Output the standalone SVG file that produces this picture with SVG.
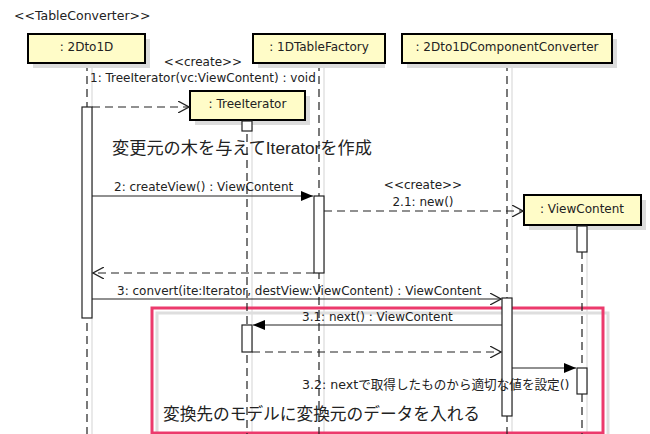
<svg xmlns="http://www.w3.org/2000/svg" width="650" height="434" viewBox="0 0 650 434">
  <style>
    text { font-family: "DejaVu Sans", "Noto Sans CJK JP", sans-serif; fill: #222; }
    .lbl { font-size: 12px; }
    .note { font-family: "Liberation Sans", "Noto Sans CJK JP", sans-serif; font-size: 17px; }
    .head { fill: #fffcc8; stroke: #000; stroke-width: 2; }
    .shadow { fill: #dcdcdc; stroke: none; }
    .sline { stroke: #e2e2e2; stroke-width: 1.5; fill: none; }
    .life { stroke: #222; stroke-width: 1.2; stroke-dasharray: 8 5; fill: none; }
    .act { fill: #fff; stroke: #222; stroke-width: 1.2; }
    .msg { stroke: #222; stroke-width: 1.2; fill: none; }
    .ret { stroke: #222; stroke-width: 1.2; fill: none; stroke-dasharray: 8 5; }
  </style>
  <defs>
    <marker id="filled" viewBox="0 0 12 10" refX="12" refY="5" markerWidth="12" markerHeight="10" markerUnits="userSpaceOnUse" orient="auto">
      <path d="M0,0 L12,5 L0,10 Z" fill="#000"/>
    </marker>
    <marker id="open" viewBox="0 0 12 12" refX="11" refY="6" markerWidth="12" markerHeight="12" markerUnits="userSpaceOnUse" orient="auto">
      <path d="M0,0 L11,6 L0,12" fill="none" stroke="#222" stroke-width="1.2"/>
    </marker>
  </defs>

  <rect width="650" height="434" fill="#fff"/>

  <text x="14" y="20" class="lbl" style="font-size:12.5px">&lt;&lt;TableConverter&gt;&gt;</text>

  <!-- lifeline shadows -->
  <g id="lifeline-shadows">
    <line class="sline" x1="92" y1="68" x2="92" y2="434"/>
    <line class="sline" x1="324" y1="68" x2="324" y2="434"/>
    <line class="sline" x1="512" y1="68" x2="512" y2="434"/>
    <line class="sline" x1="252" y1="126" x2="252" y2="434"/>
    <line class="sline" x1="587" y1="230" x2="587" y2="434"/>
  </g>

  <!-- combined fragment frame -->
  <g id="fragment">
    <rect x="157" y="313" width="451" height="130" fill="none" stroke="#dedede" stroke-width="3"/>
    <rect x="152" y="308" width="451" height="125" fill="none" stroke="#ec3a6c" stroke-width="3"/>
  </g>

  <!-- lifelines -->
  <g id="lifelines">
    <line class="life" x1="87" y1="63" x2="87" y2="434"/>
    <line class="life" x1="319" y1="63" x2="319" y2="434"/>
    <line class="life" x1="507" y1="63" x2="507" y2="434"/>
    <line class="life" x1="247" y1="121" x2="247" y2="434"/>
    <line class="life" x1="582" y1="225" x2="582" y2="434"/>
  </g>

  <g id="obj-2Dto1D">
    <rect class="shadow" x="33" y="39" width="117" height="29"/>
    <rect class="head" x="28" y="34" width="117" height="29"/>
    <text class="lbl" x="86.5" y="51" text-anchor="middle">: 2Dto1D</text>
    <rect class="act" x="82" y="107" width="10" height="211"/>
  </g>

  <g id="obj-1DTableFactory">
    <rect class="shadow" x="258" y="39" width="127" height="29"/>
    <rect class="head" x="253" y="34" width="132" height="29"/>
    <text class="lbl" x="319" y="51" text-anchor="middle">: 1DTableFactory</text>
    <rect class="act" x="314" y="196" width="10" height="77"/>
  </g>

  <g id="obj-2Dto1DComponentConverter">
    <rect class="shadow" x="407" y="39" width="210" height="29"/>
    <rect class="head" x="402" y="34" width="210" height="29"/>
    <text class="lbl" x="507" y="51" text-anchor="middle">: 2Dto1DComponentConverter</text>
    <rect class="act" x="502" y="298" width="10" height="118"/>
  </g>

  <g id="obj-TreeIterator">
    <rect class="shadow" x="195" y="96" width="115" height="29"/>
    <rect class="head" x="190" y="91" width="115" height="29"/>
    <text class="lbl" x="247.5" y="108" text-anchor="middle">: TreeIterator</text>
    <rect class="act" x="242" y="121" width="10" height="10"/>
    <rect class="act" x="242" y="325" width="10" height="27"/>
  </g>

  <g id="obj-ViewContent">
    <rect class="shadow" x="529" y="200" width="117" height="30"/>
    <rect class="head" x="524" y="195" width="117" height="30"/>
    <text class="lbl" x="582" y="213" text-anchor="middle">: ViewContent</text>
    <rect class="act" x="577" y="226" width="10" height="26"/>
    <rect class="act" x="577" y="368" width="10" height="26"/>
  </g>

  <!-- messages -->
  <g id="connectors">
    <line class="ret" x1="92" y1="107" x2="189" y2="107" marker-end="url(#open)"/>
    <line class="msg" x1="92" y1="196" x2="313" y2="196" marker-end="url(#filled)"/>
    <line class="ret" x1="324" y1="211" x2="523" y2="211" marker-end="url(#open)"/>
    <line class="ret" x1="314" y1="273" x2="93" y2="273" marker-end="url(#open)"/>
    <line class="msg" x1="92" y1="299" x2="501" y2="299" marker-end="url(#open)"/>
    <line class="msg" x1="502" y1="325" x2="253" y2="325" marker-end="url(#filled)"/>
    <line class="ret" x1="252" y1="352" x2="501" y2="352" marker-end="url(#open)"/>
    <line class="msg" x1="512" y1="368" x2="576" y2="368" marker-end="url(#filled)"/>
  </g>

  <!-- message labels -->
  <g id="labels">
    <text class="lbl" x="203" y="66" text-anchor="middle">&lt;&lt;create&gt;&gt;</text>
    <text class="lbl" x="90" y="82">1: TreeIterator(vc:ViewContent) : void</text>
    <text class="lbl" x="114" y="191">2: createView() : ViewContent</text>
    <text class="lbl" x="423" y="189" text-anchor="middle">&lt;&lt;create&gt;&gt;</text>
    <text class="lbl" x="423" y="206" text-anchor="middle">2.1: new()</text>
    <text class="lbl" x="117" y="295">3: convert(ite:Iterator, destView:ViewContent) : ViewContent</text>
    <text class="lbl" x="302" y="321">3.1: next() : ViewContent</text>
    <text class="lbl" x="302" y="389" style="font-size:12.6px">3.2: nextで取得したものから適切な値を設定()</text>
  </g>

  <!-- notes -->
  <g id="notes">
    <text class="note" x="112" y="154" style="font-size:17.2px">変更元の木を与えてIteratorを作成</text>
    <text class="note" x="163" y="420" style="font-size:16.7px">変換先のモデルに変換元のデータを入れる</text>
  </g>
</svg>
